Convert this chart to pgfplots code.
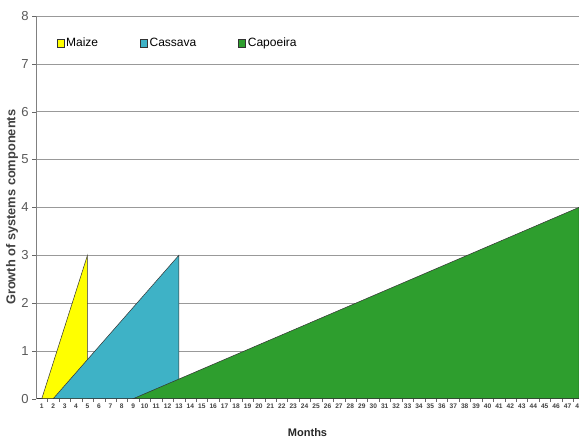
\documentclass[border=0pt]{standalone}
\usepackage{pgfplots}
\pgfplotsset{compat=1.18}
\usepackage{fontspec}
\setmainfont{Liberation Sans}
\definecolor{maize}{RGB}{255,255,0}
\definecolor{cassava}{RGB}{62,178,198}
\definecolor{capoeira}{RGB}{46,158,46}
\begin{document}
\begin{tikzpicture}
\begin{axis}[name=ax,
  scale only axis, width=542pt, height=382pt,
  xmin=0.5, xmax=48, ymin=0, ymax=8,
  axis x line*=bottom, axis y line*=left,
  x axis line style={black!80, -}, y axis line style={black!50, -},
  xtick={1,...,48}, minor xtick={1.5,2.5,...,47.5},
  major x tick style={draw=none}, minor x tick style={black!60},
  ytick={0,...,8},
  tick align=outside, major tick length=4pt, minor tick length=3pt,
  ytick style={black!60},
  ymajorgrids, grid style={black!40, line width=0.5pt},
  yticklabel style={font=\fontsize{13}{13}\selectfont, text=black!65},
  xticklabel style={font=\bfseries\fontsize{6.6}{6.6}\selectfont, text=black!75, inner sep=1pt},
  /pgf/number format/assume math mode=true,
  ylabel={\bfseries Growth of systems components},
  ylabel style={font=\fontsize{12.8}{12.8}\selectfont, text=black!75, at={(axis description cs:-0.044,0.5)}, anchor=center},
  xlabel={\bfseries Months},
  xlabel style={font=\fontsize{11}{11}\selectfont, text=black!85, at={(axis description cs:0.5,-0.089)}, anchor=center},
  legend columns=3,
  legend style={draw=none, fill=none, at={(axis description cs:0.032,0.93)}, anchor=west,
    font=\fontsize{12}{12}\selectfont, /tikz/every even column/.append style={column sep=40pt}},
  legend image code/.code={\draw[#1, line width=0.4pt] (0pt,-4pt) rectangle (7pt,4pt);},
]
\addplot[fill=maize, draw=black!80, line width=0.5pt] coordinates {(1,0) (5,3) (5,0)} -- cycle;
\addlegendentry{Maize}
\addplot[fill=cassava, draw=black!80, line width=0.5pt] coordinates {(2,0) (13,3) (13,0)} -- cycle;
\addlegendentry{Cassava}
\addplot[fill=capoeira, draw=black!80, line width=0.5pt] coordinates {(9,0) (48,4) (48,0)} -- cycle;
\addlegendentry{Capoeira}
\end{axis}
\pgfresetboundingbox
\path[use as bounding box] ([xshift=-36pt,yshift=-39pt]ax.south west) rectangle ([yshift=16pt]ax.north east);
\end{tikzpicture}
\end{document}
